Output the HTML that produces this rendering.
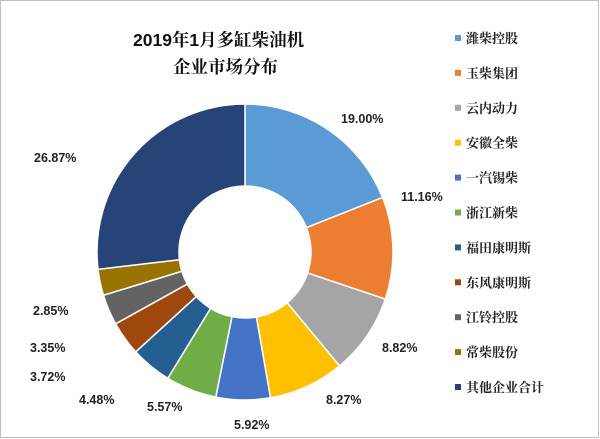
<!DOCTYPE html>
<html><head><meta charset="utf-8"><style>
body{margin:0;background:#fff}
svg{display:block}
text{font-family:"Liberation Sans","Noto Sans CJK SC",sans-serif}
.lg{font-family:"Liberation Serif","Noto Serif CJK SC",serif;font-size:13px;font-weight:bold;fill:#222}
.pc{font-size:12.5px;font-weight:bold;fill:#222}
.tt{font-family:"Liberation Sans","Noto Serif CJK SC",serif;font-size:17.5px;font-weight:bold;fill:#111}
</style></head><body>
<svg id="s" width="600" height="439" xmlns="http://www.w3.org/2000/svg">
<rect x="0.5" y="0.5" width="598" height="437" fill="#fff" stroke="#bfbfbf"/>
<text class="tt" x="133" y="46">2019年1月多缸柴油机</text>
<text class="tt" x="173" y="73">企业市场分布</text>
<g id="pie"></g>
<text class="pc" x="341" y="123">19.00%</text>
<text class="pc" x="401" y="201">11.16%</text>
<text class="pc" x="382" y="352">8.82%</text>
<text class="pc" x="326" y="404">8.27%</text>
<text class="pc" x="234" y="429">5.92%</text>
<text class="pc" x="147" y="411">5.57%</text>
<text class="pc" x="79" y="404">4.48%</text>
<text class="pc" x="30" y="381">3.72%</text>
<text class="pc" x="30" y="352">3.35%</text>
<text class="pc" x="33" y="315">2.85%</text>
<text class="pc" x="34" y="162">26.87%</text>
<g id="lg"></g>
</svg>
<script>
var v=[19,11.16,8.82,8.27,5.92,5.57,4.48,3.72,3.35,2.85,26.87];
var c=["#5B9BD5","#ED7D31","#A5A5A5","#FFC000","#4472C4","#70AD47","#255E91","#9E480E","#636363","#997300","#264478"];
var n=["潍柴控股","玉柴集团","云内动力","安徽全柴","一汽锡柴","浙江新柴","福田康明斯","东风康明斯","江铃控股","常柴股份","其他企业合计"];
var cx=245,cy=252,R=148,r=66,t=0,tot=100.01,h="";
function p(a,rr){return [cx+rr*Math.sin(a),cy-rr*Math.cos(a)];}
for(var i=0;i<v.length;i++){var a0=t/tot*2*Math.PI;t+=v[i];var a1=t/tot*2*Math.PI;var lg=(a1-a0)>Math.PI?1:0;
var A=p(a0,R),B=p(a1,R),C=p(a1,r),D=p(a0,r);
h+='<path d="M'+A+' A'+R+','+R+' 0 '+lg+' 1 '+B+' L'+C+' A'+r+','+r+' 0 '+lg+' 0 '+D+'Z" fill="'+c[i]+'" stroke="#fff" stroke-width="1.5"/>';}
document.getElementById("pie").innerHTML=h;
var g="";for(var i=0;i<11;i++){var y=38+i*34.9;g+='<rect x="455" y="'+(y-3)+'" width="6" height="6" fill="'+c[i]+'"/><text class="lg" x="466" y="'+(y+5)+'">'+n[i]+'</text>';}
document.getElementById("lg").innerHTML=g;
</script>
</body></html>
